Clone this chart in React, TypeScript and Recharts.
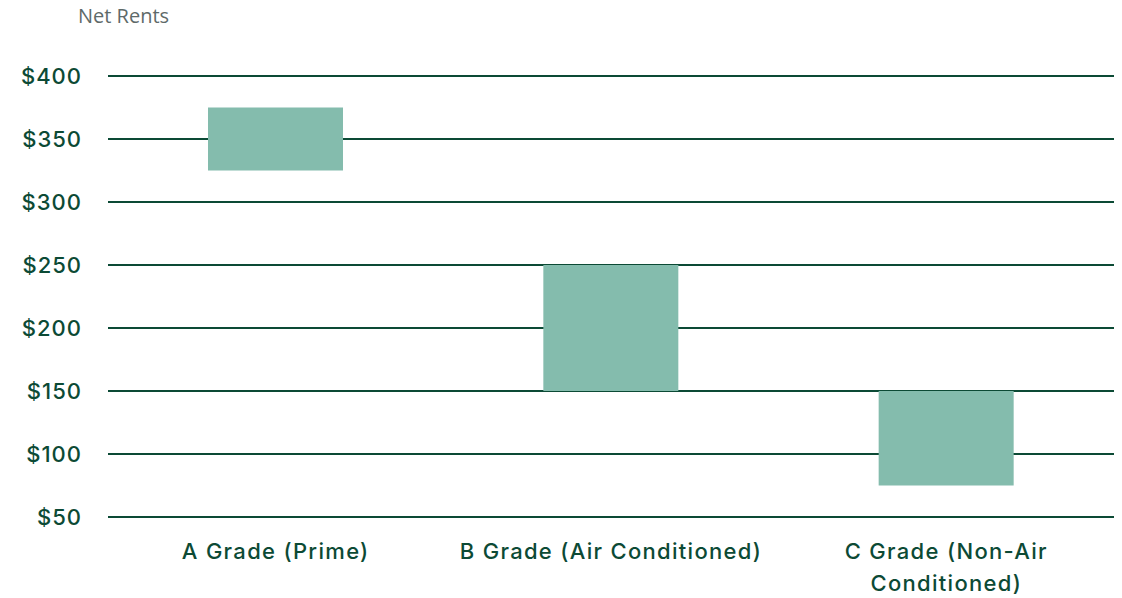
import { ComposedChart, Bar, XAxis, YAxis, CartesianGrid } from "recharts";

const categories = ["A Grade (Prime)", "B Grade (Air Conditioned)", "C Grade (Non-Air Conditioned)"];
const lowValues = [325, 150, 75];
const highValues = [375, 250, 150];
const yTicks = [50, 100, 150, 200, 250, 300, 350, 400];

const data = categories.map((name, i) => ({ name, range: [lowValues[i], highValues[i]] }));

const DARK = "#0c4a35";
const FONT = "Inter, sans-serif";
const MAX_CHARS = 25;

// greedy word wrap by character count
function wrapLabel(label: string): string[] {
  const lines: string[] = [];
  let cur = "";
  for (const word of label.split(" ")) {
    const next = cur ? cur + " " + word : word;
    if (next.length > MAX_CHARS && cur) {
      lines.push(cur);
      cur = word;
    } else {
      cur = next;
    }
  }
  if (cur) lines.push(cur);
  return lines;
}

function CategoryTick(props: any) {
  const { x, y, payload } = props;
  const lines = wrapLabel(String(payload.value));
  return (
    <text
      x={x}
      y={y}
      textAnchor="middle"
      fill={DARK}
      fontSize={22}
      fontWeight={500}
      fontFamily={FONT}
      style={{ letterSpacing: 1.3 }}
    >
      {lines.map((line, i) => (
        <tspan key={i} x={x} dy={i === 0 ? "0.71em" : 32}>
          {line}
        </tspan>
      ))}
    </text>
  );
}

export default function App() {
  return (
    <div style={{ position: "absolute", left: 0, top: 0, width: 1122, height: 598, background: "#fff" }}>
      <div
        style={{
          position: "absolute",
          left: 78,
          top: 2,
          fontFamily: "'Open Sans', sans-serif",
          fontSize: 20,
          color: "#5e6a69",
        }}
      >
        Net Rents
      </div>
      <ComposedChart
        width={1122}
        height={598}
        data={data}
        margin={{ top: 76, right: 8, bottom: 51, left: 8 }}
      >
        <CartesianGrid vertical={false} stroke={DARK} strokeWidth={2} />
        <XAxis
          dataKey="name"
          height={30}
          axisLine={false}
          tickLine={false}
          interval={0}
          tickSize={0}
          tickMargin={26}
          tick={<CategoryTick />}
        />
        <YAxis
          type="number"
          domain={[50, 400]}
          ticks={yTicks}
          width={100}
          axisLine={false}
          tickLine={false}
          tickSize={6}
          tickMargin={20}
          tickFormatter={(v: number) => `$${v}`}
          tick={{ fill: DARK, fontSize: 22, fontWeight: 500, fontFamily: FONT, letterSpacing: 1 }}
        />
        <Bar dataKey="range" fill="#84bcad" barSize={135} isAnimationActive={false} />
      </ComposedChart>
    </div>
  );
}
